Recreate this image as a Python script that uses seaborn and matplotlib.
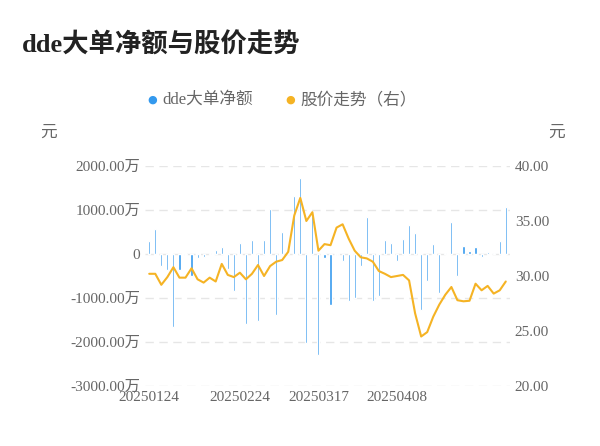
import numpy as np
import matplotlib.pyplot as plt
import seaborn as sns

sns.set_theme(style="white")
plt.rcParams['font.family'] = ['Liberation Serif', 'Noto Sans CJK SC']

# dde net amount (万元) and share price (元)
dde = [300, 570, -270, -370, -1650, -370, -20, -500, -80, -70,
       20, 100, 170, -340, -850, 260, -1600, 310, -1530, 310,
       1020, -1380, 510, 20, 1320, 1720, -2020, 860, -2290, -100,
       -1150, -20, -150, -1070, -1000, -280, 850, -1070, -950, 310,
       250, -150, 340, 650, 480, -1280, -620, 230, -890, 20,
       730, -500, 190, 60, 170, -60, 40, 20, 300, 1060]
price = [30.2, 30.2, 29.2, 29.9, 30.8, 29.85, 29.85, 30.7, 29.7, 29.4,
         29.85, 29.5, 31.1, 30.1, 29.9, 30.3, 29.7, 30.2, 31.0, 30.0,
         30.9, 31.3, 31.45, 32.2, 35.5, 37.1, 35.0, 35.8, 32.3, 32.9,
         32.8, 34.4, 34.7, 33.4, 32.3, 31.7, 31.6, 31.3, 30.45, 30.2,
         29.9, 30.0, 30.1, 29.6, 26.6, 24.5, 24.9, 26.3, 27.4, 28.3,
         29.0, 27.8, 27.7, 27.75, 29.3, 28.7, 29.1, 28.4, 28.7, 29.5]
tick_idx = [0, 15, 28, 41]
tick_labels = ['20250124', '20250224', '20250317', '20250408']

x = np.arange(len(dde))
blue, orange, grey = '#3399ee', '#f5b324', '#666666'

fig = plt.figure(figsize=(6, 4.46), dpi=100)
ax = fig.add_axes([145 / 600, 60 / 446, 365 / 600, 220 / 446])
ax.bar(x, dde, width=0.35, color=blue)
ax.set_ylim(-3000, 2000)
ax.set_xlim(-0.7, len(dde) - 0.3)
ax.set_yticks([2000, 1000, 0, -1000, -2000, -3000])
ax.set_yticklabels([f'{v:.2f}万' if v else '0' for v in [2000, 1000, 0, -1000, -2000, -3000]])
ax.yaxis.grid(True, color='#e6e6e6', linestyle=(0, (6, 4)), linewidth=1)
ax.set_axisbelow(True)
ax.set_xticks(tick_idx)
ax.set_xticklabels(tick_labels)
ax.tick_params(colors=grey, labelsize=11, length=0)
for s in ax.spines.values():
    s.set_visible(False)

ax2 = ax.twinx()
ax2.plot(x, price, color=orange, linewidth=1.5)
ax2.set_ylim(20, 40)
ax2.set_yticks([20, 25, 30, 35, 40])
ax2.set_yticklabels([f'{v:.2f}' for v in [20, 25, 30, 35, 40]])
ax2.tick_params(colors=grey, labelsize=11, length=0)
for s in ax2.spines.values():
    s.set_visible(False)

fig.text(22 / 600, 1 - 45 / 446, 'dde大单净额与股价走势', fontsize=19, fontweight='bold',
         color='#222222', va='center')
fig.text(40 / 600, 1 - 133 / 446, '元', fontsize=12, color=grey, va='center')
fig.text(548 / 600, 1 - 133 / 446, '元', fontsize=12, color=grey, va='center')

# legend
fig.text(152 / 600, 1 - 100 / 446, '●', fontsize=8, color=blue, va='center', ha='center',
         family=['DejaVu Sans'])
fig.text(162 / 600, 1 - 100 / 446, 'dde大单净额', fontsize=12, color=grey, va='center')
fig.text(290 / 600, 1 - 100 / 446, '●', fontsize=8, color=orange, va='center', ha='center',
         family=['DejaVu Sans'])
fig.text(300 / 600, 1 - 100 / 446, '股价走势（右）', fontsize=12, color=grey, va='center')

fig.savefig('out.png', dpi=100)
